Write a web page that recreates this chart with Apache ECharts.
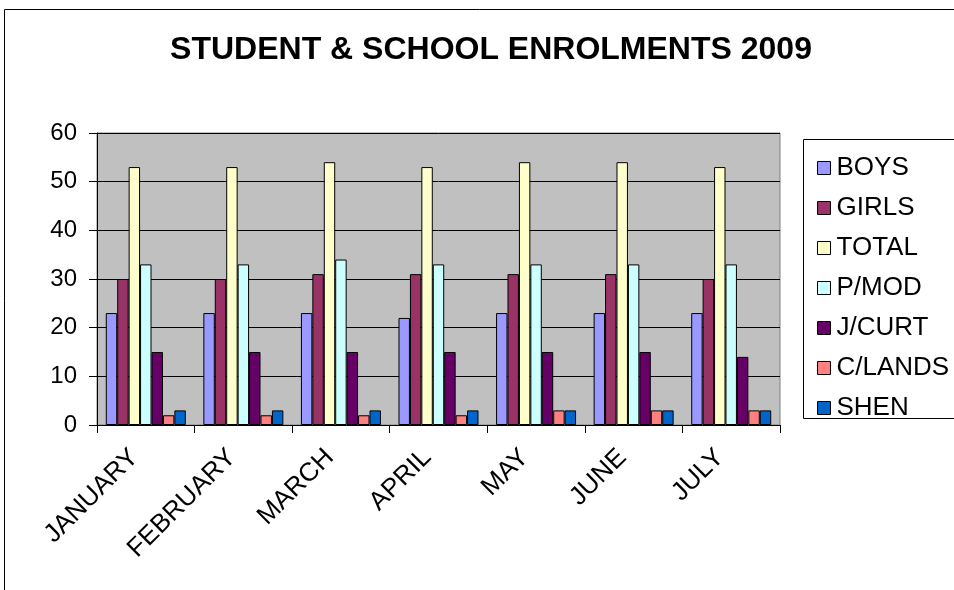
<!DOCTYPE html>
<html>
<head>
<meta charset="utf-8">
<script src="https://cdn.jsdelivr.net/npm/echarts@6/dist/echarts.min.js"></script>
<style>
  html, body { margin: 0; padding: 0; background: #fff; }
  #chart { width: 954px; height: 590px; }
</style>
</head>
<body>
<div id="chart"></div>
<script>
const months = ['JANUARY', 'FEBRUARY', 'MARCH', 'APRIL', 'MAY', 'JUNE', 'JULY']
const boys = [23, 23, 23, 22, 23, 23, 23]
const girls = [30, 30, 31, 31, 31, 31, 30]
const total = [53, 53, 54, 53, 54, 54, 53]
const pmod = [33, 33, 34, 33, 33, 33, 33]
const jcurt = [15, 15, 15, 15, 15, 15, 14]
const clands = [2, 2, 2, 2, 3, 3, 3]
const shen = [3, 3, 3, 3, 3, 3, 3]

const seriesDefs = [
  ['BOYS', boys, '#9999FF'],
  ['GIRLS', girls, '#993366'],
  ['TOTAL', total, '#FFFFCC'],
  ['P/MOD', pmod, '#CCFFFF'],
  ['J/CURT', jcurt, '#660066'],
  ['C/LANDS', clands, '#FF8080'],
  ['SHEN', shen, '#0066CC'],
]

const font = 'Liberation Sans, Arial, sans-serif'
const chart = echarts.init(document.getElementById('chart'))

chart.setOption({
  backgroundColor: '#fff',
  animation: false,
  title: {
    text: 'STUDENT & SCHOOL ENROLMENTS 2009',
    left: 486,
    top: 29,
    textAlign: 'center',
    textStyle: { fontFamily: font, fontSize: 32, fontWeight: 'bold', color: '#000' },
  },
  graphic: [
    // outer chart frame, runs off the right and bottom edges
    { type: 'rect', shape: { x: 4.5, y: 9.5, width: 1000, height: 1000 }, style: { fill: 'none', stroke: '#000', lineWidth: 1 }, z: 0 },
    // legend box
    { type: 'rect', shape: { x: 803.5, y: 139.5, width: 200, height: 279 }, style: { fill: '#fff', stroke: '#000', lineWidth: 1 }, z: 1 },
  ],
  legend: {
    orient: 'vertical',
    left: 812,
    top: 150,
    itemWidth: 13,
    itemHeight: 13,
    itemGap: 14,
    icon: 'rect',
    z: 5,
    itemStyle: { borderColor: '#000', borderWidth: 1 },
    textStyle: { fontFamily: font, fontSize: 26, color: '#000', padding: [0, 0, 0, 1] },
    data: seriesDefs.map((s) => s[0]),
  },
  grid: {
    left: 97, top: 133, width: 683, height: 292,
    show: true, backgroundColor: '#C0C0C0', borderColor: '#808080', borderWidth: 1,
  },
  xAxis: {
    type: 'category',
    data: months,
    axisLine: { lineStyle: { color: '#000' } },
    axisTick: { show: true, length: 8, lineStyle: { color: '#000' } },
    axisLabel: {
      fontFamily: font, fontSize: 26, color: '#000', rotate: 45, margin: 17, interval: 0,
      padding: [0, 16, 0, 0],
    },
  },
  yAxis: {
    type: 'value',
    min: 0, max: 60, interval: 10,
    axisLine: { show: true, lineStyle: { color: '#000' } },
    axisTick: { show: true, length: 8, lineStyle: { color: '#000' } },
    axisLabel: { fontFamily: font, fontSize: 24, color: '#000', margin: 20 },
    splitLine: { lineStyle: { color: '#000', width: 1 } },
  },
  series: seriesDefs.map(([name, data, color]) => ({
    name,
    type: 'bar',
    data,
    barGap: '0%',
    barCategoryGap: '18%',
    itemStyle: { color, borderColor: '#000', borderWidth: 1 },
  })),
})
</script>
</body>
</html>
